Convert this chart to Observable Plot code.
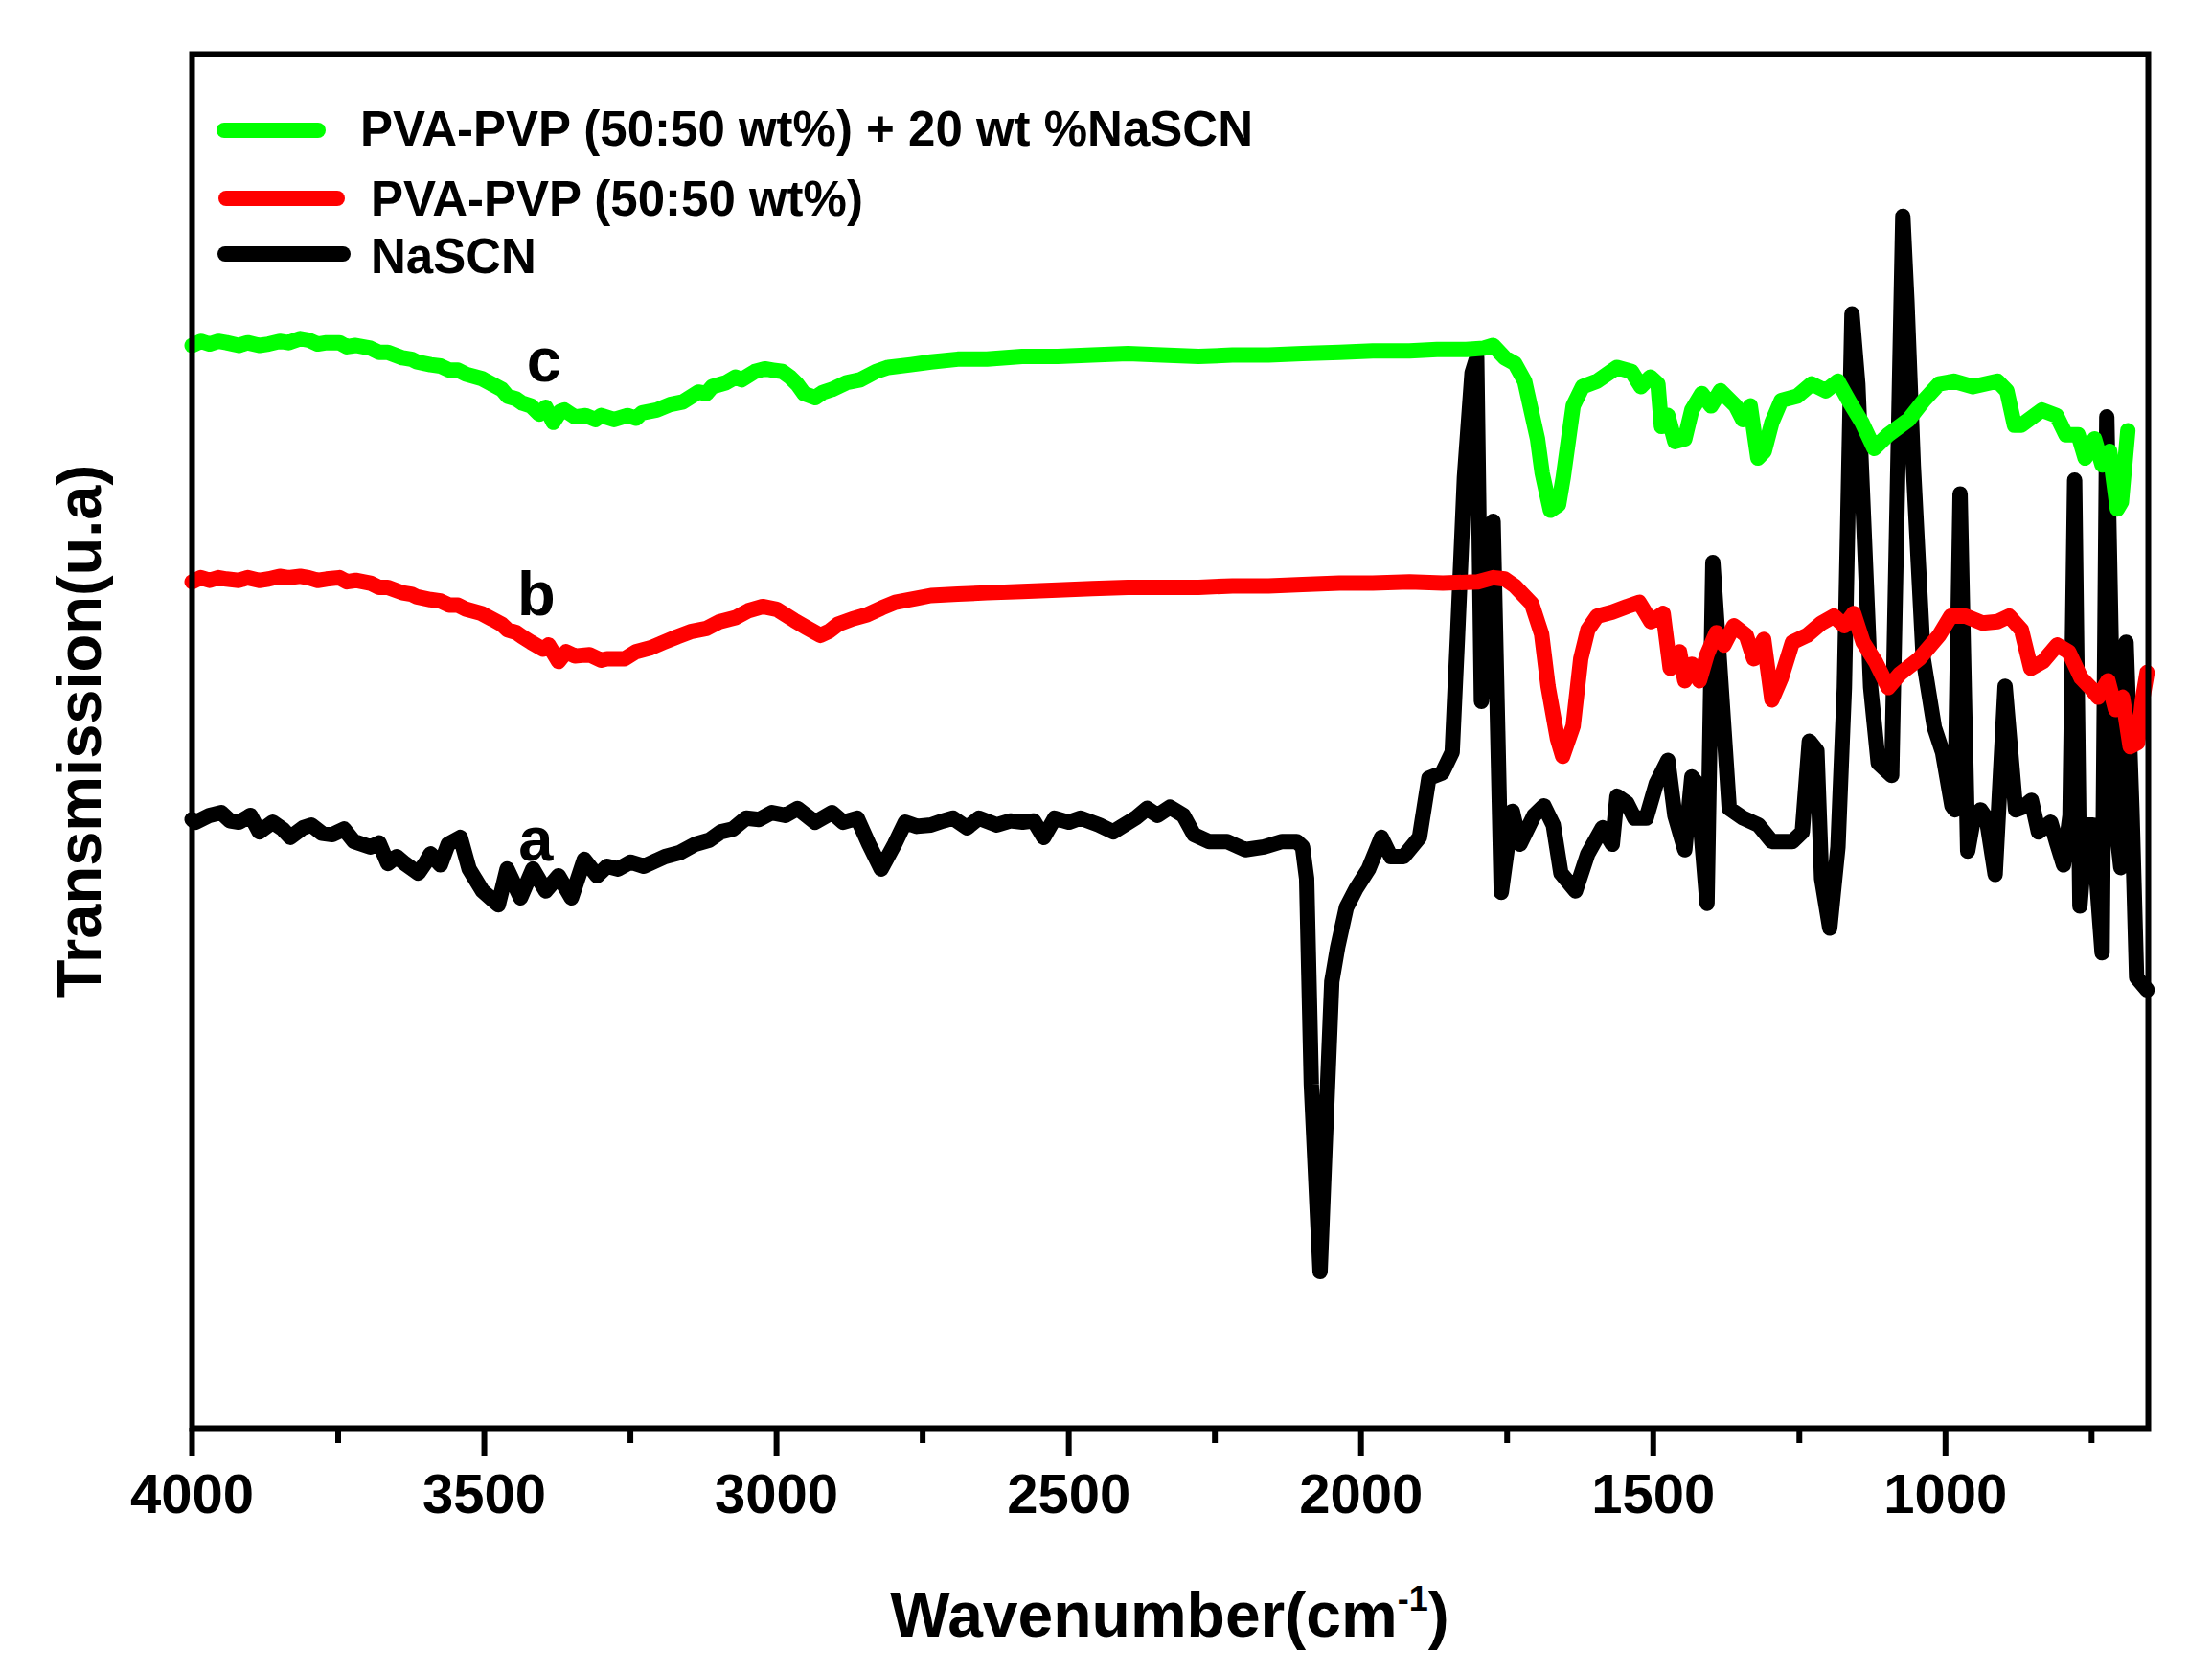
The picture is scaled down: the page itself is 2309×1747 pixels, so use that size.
<!DOCTYPE html>
<html>
<head>
<meta charset="utf-8">
<script src="https://cdn.jsdelivr.net/npm/d3@7"></script>
<script src="https://cdn.jsdelivr.net/npm/@observablehq/plot@0.6"></script>
<style>
  html, body { margin: 0; padding: 0; background: #fff; }
  #chart svg { display: block; }
</style>
</head>
<body>
<div id="chart"></div>
<script>
// FTIR spectra: transmission (arbitrary units) against wavenumber (cm^-1)
const majorTicks = [4000, 3500, 3000, 2500, 2000, 1500, 1000];
const minorTicks = [3750, 3250, 2750, 2250, 1750, 1250, 750];

const seriesNames = ["PVA-PVP (50:50 wt%) + 20 wt %NaSCN", "PVA-PVP (50:50 wt%)", "NaSCN"];
const seriesColors = ["#00ff00", "#ff0000", "#000000"];

// curve a: NaSCN  [wavenumber, transmission]
const nascn = [
  [4000, 44.3], [3994, 44.1], [3970, 44.6], [3950, 44.8], [3935, 44.2], [3920, 44.1], [3900, 44.6],
  [3885, 43.4], [3862, 44.1], [3845, 43.6], [3832, 43.0], [3810, 43.7], [3796, 43.9], [3778, 43.3],
  [3760, 43.2], [3740, 43.6], [3723, 42.7], [3695, 42.3], [3680, 42.6], [3665, 41.1], [3650, 41.6],
  [3636, 41.1], [3613, 40.4], [3600, 41.2], [3592, 41.8], [3575, 41.0], [3562, 42.5], [3541, 43.0],
  [3526, 40.7], [3503, 39.1], [3476, 38.1], [3461, 40.7], [3438, 38.6], [3417, 40.7], [3395, 39.1],
  [3373, 40.2], [3351, 38.6], [3329, 41.4], [3307, 40.2], [3290, 40.9], [3271, 40.7], [3250, 41.2],
  [3227, 40.9], [3191, 41.6], [3165, 41.9], [3139, 42.5], [3115, 42.8], [3095, 43.4], [3075, 43.6],
  [3052, 44.4], [3030, 44.3], [3008, 44.8], [2985, 44.6], [2964, 45.1], [2934, 44.1], [2905, 44.8],
  [2886, 44.1], [2862, 44.4], [2842, 42.5], [2821, 40.7], [2798, 42.5], [2780, 44.1], [2760, 43.8],
  [2736, 43.9], [2715, 44.2], [2698, 44.4], [2674, 43.7], [2654, 44.4], [2623, 43.9], [2600, 44.2],
  [2579, 44.1], [2560, 44.2], [2543, 43.0], [2524, 44.4], [2500, 44.1], [2480, 44.4], [2448, 43.9],
  [2424, 43.4], [2386, 44.4], [2366, 45.1], [2348, 44.6], [2327, 45.2], [2304, 44.6], [2286, 43.2],
  [2260, 42.7], [2229, 42.7], [2198, 42.1], [2166, 42.3], [2135, 42.7], [2110, 42.7], [2100, 42.3],
  [2093, 40.0], [2085, 25.0], [2070, 11.4], [2060, 22.0], [2050, 32.5], [2040, 35.0], [2025, 37.9],
  [2008, 39.3], [1987, 40.7], [1965, 43.0], [1949, 41.6], [1927, 41.6], [1900, 43.0], [1884, 47.3],
  [1861, 47.7], [1844, 49.2], [1835, 57.5], [1823, 69.2], [1810, 76.8], [1802, 77.9], [1794, 52.9],
  [1774, 66.0], [1760, 39.0], [1741, 44.9], [1728, 42.5], [1704, 44.6], [1687, 45.3], [1671, 43.9],
  [1658, 40.4], [1633, 39.1], [1612, 41.8], [1587, 43.7], [1570, 42.5], [1562, 46.0], [1545, 45.5],
  [1532, 44.4], [1512, 44.4], [1495, 46.9], [1475, 48.6], [1463, 44.6], [1446, 42.1], [1434, 47.4],
  [1425, 46.9], [1408, 38.2], [1398, 63.0], [1370, 45.1], [1346, 44.4], [1320, 43.9], [1297, 42.7],
  [1262, 42.7], [1245, 43.4], [1233, 50.0], [1220, 49.3], [1212, 40.0], [1198, 36.4], [1184, 42.3],
  [1173, 53.9], [1160, 81.1], [1150, 76.0], [1140, 66.0], [1128, 53.9], [1115, 48.4], [1092, 47.5],
  [1073, 88.2], [1066, 82.0], [1055, 70.0], [1038, 56.0], [1019, 51.0], [1005, 49.2], [989, 45.3],
  [984, 45.0], [975, 68.0], [962, 42.0], [952, 44.4], [940, 45.0], [930, 44.4], [915, 40.3],
  [898, 54.0], [880, 45.0], [867, 45.2], [853, 45.7], [841, 43.4], [820, 44.1], [809, 42.5],
  [798, 41.0], [787, 44.6], [779, 69.0], [770, 38.0], [759, 43.9], [748, 43.9], [738, 38.0],
  [732, 34.6], [724, 73.6], [711, 45.0], [700, 40.8], [691, 57.2], [681, 45.0], [673, 32.8],
  [655, 31.9]
];

// curve b: PVA-PVP (50:50 wt%)
const pvaPvp = [
  [4000, 61.6], [3985, 61.9], [3970, 61.7], [3955, 61.9], [3941, 61.8], [3920, 61.7], [3905, 61.9],
  [3885, 61.7], [3869, 61.8], [3850, 62.0], [3835, 61.9], [3815, 62.0], [3801, 61.9], [3785, 61.7],
  [3770, 61.8], [3748, 61.9], [3735, 61.6], [3720, 61.7], [3695, 61.5], [3680, 61.2], [3665, 61.2],
  [3640, 60.8], [3625, 60.7], [3615, 60.5], [3592, 60.3], [3575, 60.2], [3560, 59.9], [3545, 59.9],
  [3531, 59.6], [3505, 59.3], [3483, 58.8], [3470, 58.5], [3460, 58.1], [3445, 57.9], [3435, 57.6],
  [3420, 57.2], [3400, 56.7], [3390, 57.0], [3373, 55.8], [3360, 56.5], [3345, 56.2], [3320, 56.3],
  [3300, 55.9], [3290, 56.0], [3260, 56.0], [3241, 56.5], [3215, 56.8], [3193, 57.2], [3170, 57.6],
  [3145, 58.0], [3120, 58.2], [3097, 58.7], [3070, 59.0], [3048, 59.5], [3024, 59.8], [3000, 59.6],
  [2985, 59.2], [2970, 58.8], [2950, 58.3], [2925, 57.7], [2910, 58.0], [2895, 58.5], [2870, 58.9],
  [2845, 59.2], [2820, 59.7], [2797, 60.1], [2760, 60.4], [2736, 60.6], [2690, 60.7], [2640, 60.8],
  [2580, 60.9], [2519, 61.0], [2460, 61.1], [2399, 61.2], [2340, 61.2], [2278, 61.2], [2220, 61.3],
  [2158, 61.3], [2100, 61.4], [2037, 61.5], [1980, 61.5], [1917, 61.6], [1860, 61.5], [1800, 61.6],
  [1774, 61.9], [1754, 61.8], [1737, 61.3], [1708, 60.0], [1691, 57.8], [1680, 54.0], [1664, 50.2],
  [1655, 48.9], [1637, 51.1], [1624, 56.0], [1612, 58.1], [1596, 59.1], [1570, 59.4], [1545, 59.8],
  [1524, 60.1], [1504, 58.7], [1483, 59.3], [1471, 55.3], [1455, 56.5], [1446, 54.4], [1434, 55.6],
  [1421, 54.4], [1408, 56.3], [1392, 57.9], [1379, 57.0], [1362, 58.4], [1341, 57.7], [1328, 56.0],
  [1311, 57.4], [1297, 53.0], [1281, 54.6], [1262, 57.2], [1237, 57.7], [1212, 58.6], [1191, 59.1],
  [1173, 58.4], [1157, 59.3], [1141, 57.2], [1120, 55.8], [1098, 53.9], [1078, 54.9], [1045, 56.0],
  [1011, 57.7], [991, 59.1], [965, 59.1], [937, 58.6], [911, 58.7], [891, 59.1], [870, 58.1],
  [854, 55.3], [833, 55.8], [809, 57.0], [789, 56.5], [768, 54.6], [752, 53.9], [739, 53.2],
  [722, 54.4], [709, 52.3], [697, 53.2], [684, 49.6], [671, 49.9], [663, 53.0], [655, 55.0]
];

// curve c: PVA-PVP (50:50 wt%) + 20 wt% NaSCN
const pvaPvpNascn = [
  [4000, 78.8], [3985, 79.1], [3970, 78.9], [3955, 79.1], [3941, 79.0], [3920, 78.8], [3905, 79.0],
  [3885, 78.8], [3869, 78.9], [3850, 79.1], [3835, 79.0], [3815, 79.3], [3801, 79.2], [3785, 78.9],
  [3770, 79.0], [3748, 79.0], [3735, 78.7], [3720, 78.8], [3695, 78.6], [3680, 78.3], [3665, 78.3],
  [3640, 77.9], [3625, 77.8], [3615, 77.6], [3592, 77.4], [3575, 77.3], [3560, 77.0], [3545, 77.0],
  [3531, 76.7], [3505, 76.4], [3483, 75.9], [3470, 75.6], [3460, 75.1], [3445, 74.9], [3435, 74.6],
  [3420, 74.4], [3406, 73.8], [3395, 74.3], [3382, 73.2], [3370, 74.0], [3363, 74.1], [3345, 73.6],
  [3327, 73.7], [3310, 73.4], [3300, 73.7], [3278, 73.4], [3255, 73.7], [3240, 73.5], [3230, 73.9],
  [3205, 74.1], [3182, 74.5], [3160, 74.7], [3134, 75.4], [3120, 75.3], [3110, 75.8], [3086, 76.1],
  [3070, 76.5], [3060, 76.3], [3037, 76.9], [3020, 77.1], [3006, 77.0], [2990, 76.9], [2977, 76.5],
  [2965, 76.0], [2953, 75.3], [2934, 75.0], [2920, 75.4], [2905, 75.6], [2880, 76.1], [2857, 76.3],
  [2830, 76.9], [2809, 77.2], [2770, 77.4], [2736, 77.6], [2690, 77.8], [2640, 77.8], [2580, 78.0],
  [2519, 78.0], [2460, 78.1], [2399, 78.2], [2340, 78.1], [2278, 78.0], [2220, 78.1], [2158, 78.1],
  [2100, 78.2], [2037, 78.3], [1980, 78.4], [1917, 78.4], [1870, 78.5], [1820, 78.5], [1790, 78.6],
  [1774, 78.8], [1754, 77.9], [1737, 77.5], [1720, 76.2], [1708, 73.9], [1698, 72.0], [1690, 69.5],
  [1676, 66.8], [1662, 67.2], [1654, 69.2], [1637, 74.4], [1621, 75.8], [1596, 76.2], [1562, 77.2],
  [1537, 76.9], [1521, 75.8], [1505, 76.5], [1492, 76.0], [1486, 72.9], [1475, 73.7], [1463, 71.8],
  [1446, 72.0], [1434, 74.1], [1417, 75.3], [1401, 74.4], [1385, 75.5], [1359, 74.4], [1347, 73.4],
  [1334, 74.4], [1321, 70.6], [1310, 71.1], [1297, 73.2], [1281, 74.8], [1254, 75.1], [1229, 76.0],
  [1205, 75.5], [1184, 76.2], [1163, 74.6], [1143, 73.2], [1122, 71.3], [1098, 72.3], [1063, 73.4],
  [1037, 74.8], [1011, 76.0], [986, 76.2], [953, 75.8], [911, 76.2], [895, 75.5], [882, 73.0],
  [870, 73.0], [835, 74.1], [810, 73.7], [794, 72.3], [773, 72.3], [761, 70.6], [745, 72.0],
  [732, 70.1], [719, 71.1], [706, 66.9], [699, 67.4], [688, 72.6]
];

// letters naming each curve, placed just above its 3400 cm^-1 band
const curveLabels = [
  {label: "c", wavenumber: 3398, value: 76.2},
  {label: "b", wavenumber: 3411, value: 59.2},
  {label: "a", wavenumber: 3412, value: 41.3}
];

const FONT = "'Liberation Sans', Arial, Helvetica, sans-serif";
const W = 2309, H = 1747;
const lineStyle = {strokeWidth: 16, strokeLinejoin: "round", strokeLinecap: "round"};
const xy = {x: d => d[0], y: d => d[1]};

const chart = Plot.plot({
  width: W,
  height: H,
  marginLeft: 200,
  marginRight: 67,
  marginTop: 56,
  marginBottom: 257,
  style: {fontFamily: FONT, fontWeight: "bold", background: "#fff", color: "#000", fontSize: "58px"},
  x: {domain: [4000, 653]},
  y: {domain: [0, 100], axis: null},
  marks: [
    Plot.line(nascn, {...xy, stroke: seriesColors[2], ...lineStyle}),
    Plot.line(pvaPvp, {...xy, stroke: seriesColors[1], ...lineStyle}),
    Plot.line(pvaPvpNascn, {...xy, stroke: seriesColors[0], ...lineStyle}),
    Plot.text(curveLabels, {
      x: "wavenumber", y: "value", text: "label",
      fontSize: 65, fontWeight: "bold", fill: "#000",
      textAnchor: "middle", lineAnchor: "bottom"
    }),
    Plot.frame({stroke: "#000", strokeWidth: 6}),
    Plot.axisX({
      ticks: majorTicks, tickSize: 30, tickPadding: 17,
      tickFormat: d => String(d), strokeWidth: 6, fontSize: 58, label: null
    }),
    Plot.axisX({
      ticks: minorTicks, tickSize: 16, tickFormat: () => "", strokeWidth: 6, label: null
    })
  ]
});

document.getElementById("chart").appendChild(chart);

const svg = d3.select(chart);

// axis titles
const xTitle = svg.append("text")
  .attr("x", 1221).attr("y", 1708)
  .attr("text-anchor", "middle")
  .attr("font-family", FONT).attr("font-weight", "bold").attr("font-size", 66)
  .attr("fill", "#000");
xTitle.append("tspan").text("Wavenumber(cm");
xTitle.append("tspan").attr("font-size", 36).attr("dy", -27).text("-1");
xTitle.append("tspan").attr("dy", 27).text(")");

svg.append("text")
  .attr("transform", "translate(105,763) rotate(-90)")
  .attr("text-anchor", "middle")
  .attr("font-family", FONT).attr("font-weight", "bold").attr("font-size", 65)
  .attr("fill", "#000")
  .text("Transmission(u.a)");

// legend: swatch line and name for each series
const legendRows = [
  {x1: 234, x2: 332, y: 136, tx: 376, ty: 152},
  {x1: 236, x2: 352, y: 207, tx: 387, ty: 225},
  {x1: 235, x2: 358, y: 265, tx: 387, ty: 285}
];
const legend = svg.append("g")
  .attr("font-family", FONT).attr("font-weight", "bold").attr("font-size", 51)
  .attr("text-anchor", "start");
legendRows.forEach((r, i) => {
  legend.append("line")
    .attr("x1", r.x1).attr("x2", r.x2).attr("y1", r.y).attr("y2", r.y)
    .attr("stroke", seriesColors[i]).attr("stroke-width", 16).attr("stroke-linecap", "round");
  legend.append("text")
    .attr("x", r.tx).attr("y", r.ty)
    .attr("text-anchor", "start").attr("fill", "#000")
    .text(seriesNames[i]);
});
</script>
</body>
</html>
